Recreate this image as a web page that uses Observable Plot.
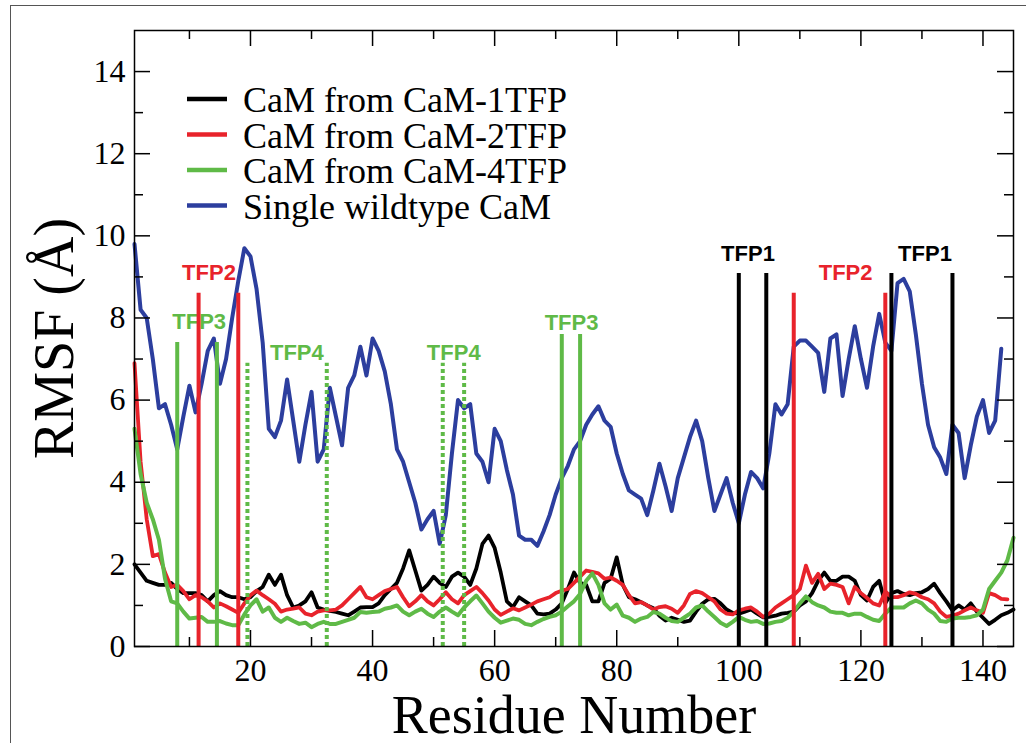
<!DOCTYPE html>
<html><head><meta charset="utf-8">
<script src="https://cdn.jsdelivr.net/npm/d3@7"></script>
<script src="https://cdn.jsdelivr.net/npm/@observablehq/plot@0.6"></script>
<style>
html,body{margin:0;padding:0;background:#fff;}
#wrap{position:relative;width:1026px;height:743px;overflow:hidden;}
#wrap svg{position:absolute;left:0;top:0;}
#border{position:absolute;left:10px;top:5px;width:1100px;height:800px;border-left:1.5px solid #555;border-top:1.5px solid #555;pointer-events:none;}
</style></head><body><div id="wrap"></div>
<script>
// ---------- data ----------
const seriesNames = ["CaM from CaM-1TFP", "CaM from CaM-2TFP", "CaM from CaM-4TFP", "Single wildtype CaM"];
const seriesColors = ["#000000", "#e8232b", "#5fba47", "#2c3e9e"];

// RMSF per residue, starting at residue 1
const rmsf1TFP = [2.0, 1.8, 1.6, 1.55, 1.5, 1.5, 1.55, 1.4, 1.3, 1.3,
 1.3, 1.25, 1.1, 1.25, 1.35, 1.25, 1.2, 1.2, 1.15, 1.2,
 1.35, 1.45, 1.75, 1.5, 1.75, 1.25, 0.95, 1.0, 1.1, 1.32,
 0.95, 0.9, 0.87, 0.84, 0.8, 0.76, 0.85, 0.95, 0.96, 0.96,
 1.05, 1.25, 1.4, 1.55, 1.9, 2.34, 1.85, 1.36, 1.5, 1.7,
 1.55, 1.45, 1.7, 1.8, 1.7, 1.5, 1.9, 2.5, 2.7, 2.4,
 1.8, 1.1, 0.96, 1.2, 1.1, 1.0, 0.8, 0.78, 0.8, 0.9,
 1.05, 1.4, 1.8, 1.55, 1.5, 1.1, 1.1, 1.55, 1.65, 2.17,
 1.5, 1.2, 1.15, 1.08, 1.0, 0.93, 0.75, 0.63, 0.7, 0.65,
 0.6, 0.63, 0.85, 1.04, 1.15, 1.16, 1.05, 0.9, 0.82, 0.8,
 0.85, 0.9, 0.8, 0.71, 0.72, 0.75, 0.8, 0.82, 0.85, 1.0,
 1.1, 1.3, 1.6, 1.8, 1.6, 1.6, 1.7, 1.7, 1.6, 1.25,
 1.12, 1.45, 1.6, 1.05, 1.3, 1.35, 1.28, 1.25, 1.3, 1.32,
 1.4, 1.53, 1.3, 1.1, 0.88, 1.0, 0.9, 1.05, 0.85, 0.7,
 0.55, 0.65, 0.76, 0.82, 0.9];

const rmsf2TFP = [6.9, 4.5, 3.1, 2.2, 2.25, 1.8, 1.45, 1.5, 1.35, 1.15,
 1.25, 1.2, 1.1, 0.95, 1.05, 0.98, 0.9, 0.82, 1.05, 1.25,
 1.36, 1.25, 1.15, 1.04, 0.85, 0.9, 0.92, 0.95, 0.8, 0.76,
 0.85, 0.88, 0.88, 0.9, 1.0, 1.15, 1.3, 1.45, 1.2, 1.15,
 1.25, 1.35, 1.4, 1.45, 1.2, 0.98, 1.1, 1.25, 1.1, 1.0,
 1.15, 1.32, 1.15, 1.05, 1.25, 1.35, 1.45, 1.3, 1.12, 0.9,
 0.77, 0.85, 0.93, 0.88, 0.95, 1.02, 1.1, 1.15, 1.2, 1.3,
 1.36, 1.4, 1.55, 1.7, 1.85, 1.82, 1.78, 1.65, 1.68, 1.6,
 1.5, 1.25, 1.05, 1.08, 1.0, 0.9, 0.96, 0.98, 0.92, 0.82,
 1.0, 1.28, 1.35, 1.3, 1.2, 1.1, 0.9, 0.8, 0.78, 0.88,
 0.92, 0.95, 0.85, 0.72, 0.8, 0.95, 1.05, 1.15, 1.25, 1.4,
 1.97, 1.55, 1.77, 1.4, 1.53, 1.5, 1.45, 1.05, 1.45, 1.3,
 1.18, 1.05, 1.0, 1.34, 1.2, 1.2, 1.25, 1.32, 1.28, 1.2,
 1.15, 1.05, 0.85, 0.72, 0.75, 0.8, 0.88, 0.95, 0.88, 0.82,
 1.3, 1.25, 1.16, 1.15];

const rmsf4TFP = [5.3, 4.2, 3.5, 3.1, 2.6, 1.65, 1.1, 1.05, 0.85, 0.68,
 0.7, 0.72, 0.6, 0.6, 0.62, 0.56, 0.52, 0.52, 0.78, 1.0,
 1.15, 0.85, 0.95, 0.7, 0.6, 0.7, 0.62, 0.55, 0.58, 0.47,
 0.55, 0.6, 0.55, 0.55, 0.6, 0.65, 0.7, 0.84, 0.82, 0.84,
 0.85, 0.92, 0.95, 1.0, 0.85, 0.76, 0.85, 0.92, 0.8, 0.72,
 0.85, 0.95, 0.85, 0.76, 0.95, 1.1, 1.24, 1.05, 0.85, 0.7,
 0.58, 0.63, 0.68, 0.65, 0.55, 0.52, 0.6, 0.67, 0.72, 0.76,
 0.85, 0.98, 1.1, 1.28, 1.6, 1.78, 1.5, 1.05, 0.9, 1.02,
 0.75, 0.7, 0.6, 0.68, 0.72, 0.84, 0.8, 0.7, 0.62, 0.6,
 0.7, 0.8, 0.95, 1.0, 0.85, 0.72, 0.58, 0.5, 0.6, 0.72,
 0.65, 0.6, 0.62, 0.55, 0.56, 0.6, 0.62, 0.7, 0.85, 1.05,
 1.22, 1.08, 1.0, 0.95, 0.85, 0.82, 0.82, 0.76, 0.8, 0.8,
 0.72, 0.65, 0.62, 0.8, 0.95, 0.95, 0.95, 1.05, 1.12, 1.05,
 0.9, 0.8, 0.62, 0.6, 0.68, 0.7, 0.7, 0.72, 0.76, 0.9,
 1.4, 1.6, 1.8, 2.1, 2.65];

const rmsfWildtype = [9.8, 8.2, 8.0, 7.0, 5.8, 5.9, 5.4, 4.8, 5.6, 6.35,
 5.7, 6.4, 7.2, 7.5, 6.4, 7.0, 8.0, 8.9, 9.7, 9.5,
 8.7, 7.4, 5.3, 5.1, 5.5, 6.5, 5.5, 4.5, 5.4, 6.2,
 4.5, 4.8, 6.3, 5.6, 4.9, 6.3, 6.6, 7.3, 6.6, 7.5,
 7.2, 6.7, 5.9, 4.8, 4.5, 4.0, 3.5, 2.85, 3.1, 3.3,
 2.5, 3.2, 4.7, 6.0, 5.8, 5.9, 4.7, 4.5, 4.0, 5.3,
 5.0, 4.3, 3.7, 2.7, 2.6, 2.6, 2.45, 2.8, 3.2, 3.7,
 4.1, 4.4, 4.8, 5.0, 5.4, 5.65, 5.85, 5.5, 5.35, 4.7,
 4.2, 3.8, 3.7, 3.6, 3.2, 3.8, 4.45, 3.9, 3.3, 4.1,
 4.6, 5.1, 5.5, 5.0, 4.1, 3.3, 3.7, 4.1, 3.5, 3.0,
 3.7, 4.25, 4.1, 3.85, 4.7, 5.9, 5.65, 5.9, 7.3, 7.45,
 7.45, 7.3, 7.15, 6.2, 7.5, 7.6, 6.1, 7.0, 7.8, 7.0,
 6.3, 7.3, 8.1, 7.4, 7.2, 8.85, 8.95, 8.65, 7.6, 6.4,
 5.4, 4.85, 4.6, 4.2, 5.4, 5.2, 4.1, 4.9, 5.6, 6.0,
 5.2, 5.5, 7.25];

// TFP binding-site marker lines (residue, top of line in Å)
const tfp1Residues = [100, 104.5, 125, 135];
const tfp1Tops = [9.08, 9.08, 9.08, 9.08];
const tfp2Residues = [11.5, 18, 109, 124];
const tfp2Tops = [8.6, 8.6, 8.6, 8.6];
const tfp3Residues = [8, 14.5, 71, 74];
const tfp3Tops = [7.4, 7.4, 7.6, 7.6];
const tfp4Residues = [19.5, 32.5, 51.5, 55];
const tfp4Tops = [6.9, 6.9, 6.9, 6.9];

// TFP labels
const tfpLabelText = ["TFP2", "TFP3", "TFP4", "TFP4", "TFP3", "TFP1", "TFP2", "TFP1"];
const tfpLabelX = [13.2, 11.6, 27.6, 53.3, 72.6, 101.5, 117.5, 130.5];
const tfpLabelY = [9.1, 7.9, 7.15, 7.15, 7.87, 9.55, 9.1, 9.55];
const tfpLabelGroup = [1, 2, 2, 2, 2, 0, 1, 0]; // index into seriesColors

// axis ticks
const xMajorTicks = [20, 40, 60, 80, 100, 120, 140];
const xMinorTicks = [10, 30, 50, 70, 90, 110, 130];
const yMajorTicks = [0, 2, 4, 6, 8, 10, 12, 14];
const yMinorTicks = [1, 3, 5, 7, 9, 11, 13];

// ---------- layout ----------
const W = 1026, H = 743, mL = 134, mR = 13, mT = 30, mB = 97;
const plotW = W - mL - mR, plotH = H - mT - mB;
const serif = "'Liberation Serif', 'DejaVu Serif', 'Times New Roman', serif";
const sans = "'Liberation Sans', Arial, Helvetica, sans-serif";
const majorLen = 16, minorLen = 9;

const toRows = (vals, si) => vals.map((v, i) => ({residue: i + 1, rmsf: v, series: si}));
const lineSets = [rmsf1TFP, rmsf2TFP, rmsf4TFP, rmsfWildtype].map(toRows);

const markerRows = [];
[[tfp1Residues, tfp1Tops, 0, false], [tfp2Residues, tfp2Tops, 1, false],
 [tfp3Residues, tfp3Tops, 2, false], [tfp4Residues, tfp4Tops, 2, true]].forEach(([rs, ts, c, dotted]) => {
  rs.forEach((r, i) => markerRows.push({residue: r, top: ts[i], color: seriesColors[c], dotted}));
});
const labelRows = tfpLabelText.map((t, i) => ({text: t, x: tfpLabelX[i], y: tfpLabelY[i], color: seriesColors[tfpLabelGroup[i]]}));

const tickStyle = {stroke: "black", strokeWidth: 1.5};

const chart = Plot.plot({
  width: W, height: H,
  marginLeft: mL, marginRight: mR, marginTop: mT, marginBottom: mB,
  style: {background: "transparent", fontFamily: serif, color: "black"},
  x: {domain: [1, 145]},
  y: {domain: [0, 15]},
  marks: [
    Plot.line(lineSets[3], {x: "residue", y: "rmsf", stroke: seriesColors[3], strokeWidth: 4, strokeLinejoin: "round"}),
    Plot.line(lineSets[0], {x: "residue", y: "rmsf", stroke: seriesColors[0], strokeWidth: 3.8, strokeLinejoin: "round"}),
    Plot.line(lineSets[1], {x: "residue", y: "rmsf", stroke: seriesColors[1], strokeWidth: 3.8, strokeLinejoin: "round"}),
    Plot.line(lineSets[2], {x: "residue", y: "rmsf", stroke: seriesColors[2], strokeWidth: 4, strokeLinejoin: "round"}),
    Plot.text(labelRows, {x: "x", y: "y", text: "text", fill: "color", fontSize: 22, fontWeight: "bold", fontFamily: sans}),
    Plot.ruleX(markerRows.filter(d => !d.dotted), {x: "residue", y1: 0, y2: "top", stroke: "color", strokeWidth: 4}),
    Plot.ruleX(markerRows.filter(d => d.dotted), {x: "residue", y1: 0, y2: "top", stroke: "color", strokeWidth: 4, strokeDasharray: "4,3"}),
    Plot.ruleX(xMajorTicks, {x: d => d, insetTop: plotH - majorLen, ...tickStyle}),
    Plot.ruleX(xMinorTicks, {x: d => d, insetTop: plotH - minorLen, ...tickStyle}),
    Plot.ruleX(xMajorTicks, {x: d => d, insetBottom: plotH - majorLen, ...tickStyle}),
    Plot.ruleX(xMinorTicks, {x: d => d, insetBottom: plotH - minorLen, ...tickStyle}),
    Plot.ruleY(yMajorTicks, {y: d => d, insetRight: plotW - majorLen, ...tickStyle}),
    Plot.ruleY(yMinorTicks, {y: d => d, insetRight: plotW - minorLen, ...tickStyle}),
    Plot.ruleY(yMajorTicks, {y: d => d, insetLeft: plotW - majorLen, ...tickStyle}),
    Plot.ruleY(yMinorTicks, {y: d => d, insetLeft: plotW - minorLen, ...tickStyle}),
    Plot.axisX({ticks: xMajorTicks, tickSize: 0, tickPadding: 12, fontSize: 32, fontFamily: serif, label: null, tickFormat: d => String(d)}),
    Plot.axisY({ticks: yMajorTicks, tickSize: 0, tickPadding: 9, fontSize: 32, fontFamily: serif, label: null, tickFormat: d => String(d)}),
    Plot.frame({stroke: "black", strokeWidth: 1.5}),
    Plot.text(["Residue Number"], {text: d => d, frameAnchor: "bottom", dy: 86, lineAnchor: "bottom", textAnchor: "middle", fontSize: 54, fontFamily: serif, fill: "black"}),
    Plot.text(["RMSF (Å)"], {text: d => d, frameAnchor: "left", rotate: -90, dx: -62, lineAnchor: "bottom", textAnchor: "middle", fontSize: 56, fontFamily: serif, fill: "black"})
  ]
});

const wrap = document.getElementById("wrap");
wrap.appendChild(chart);
const border = document.createElement("div");
border.id = "border";
wrap.appendChild(border);

// legend inside the plot area (top-left)
const svg = d3.select(chart);
const lg = svg.append("g").attr("class", "legend").attr("text-anchor", "start");
seriesNames.forEach((name, i) => {
  const base = 112 + i * 35.5;
  lg.append("line").attr("x1", 187).attr("x2", 227).attr("y1", base - 13).attr("y2", base - 13)
    .attr("stroke", seriesColors[i]).attr("stroke-width", 4.5);
  lg.append("text").attr("x", 243).attr("y", base).attr("font-size", 36)
    .attr("text-anchor", "start")
    .attr("font-family", serif).attr("fill", "black").text(name);
});
</script></body></html>
